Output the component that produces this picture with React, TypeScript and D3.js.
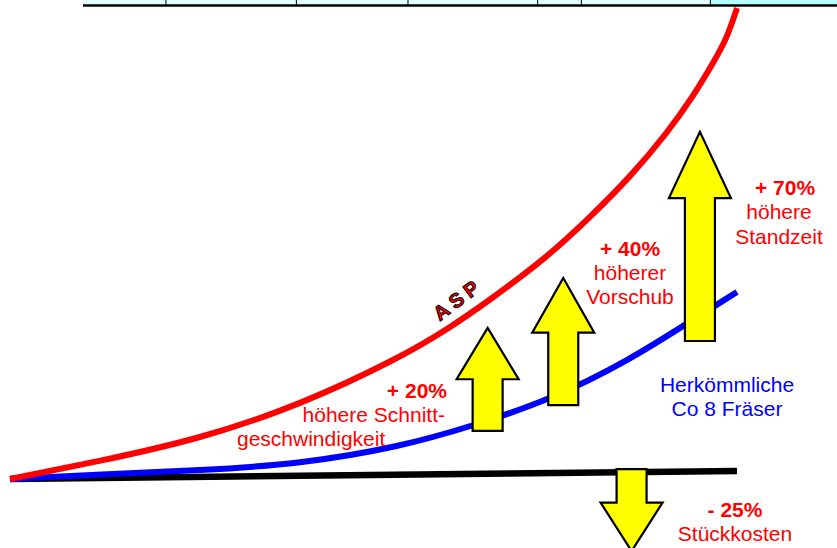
import * as d3 from "d3";

// conceptual units: x = Leistung 0..100, y = Wert 0..100
const aspX = [0, 12.4, 26.1, 39.9, 53.6, 60.5, 66.0, 73.9, 79.8, 85.3, 90.4, 93.9, 96.7, 98.6, 100];
const aspY = [0, 3.8, 8.5, 15.7, 25.7, 32.1, 38.0, 47.1, 55.6, 64.1, 73.5, 81.1, 88.3, 93.5, 100];

const co8X = [0, 12.4, 26.1, 39.9, 53.6, 63.7, 74.3, 85.3, 93.9, 100];
const co8Y = [0, 1.0, 1.8, 3.2, 6.8, 11.3, 16.8, 25.3, 33.8, 39.7];

const baseX = [0, 100];
const baseY = [0, 1.7];

// arrows: centre x, start y, end y
const arrowNames = ["Schnittgeschwindigkeit", "Vorschub", "Standzeit", "Stückkosten"];
const arrowX = [65.7, 76.1, 94.9, 85.5];
const arrowFrom = [10.2, 15.7, 29.3, 2.1];
const arrowTo = [32.1, 42.7, 73.7, -15.3];

// old table remnant at the top (column borders as share of width)
const tableCols = [0, 0.11, 0.283, 0.431, 0.603, 0.661, 0.832, 1];

const W = 837, H = 548;

const x = d3.scaleLinear().domain([0, 100]).range([10, 737]);
const y = d3.scaleLinear().domain([0, 100]).range([479, 8]);

const line = d3.line<[number, number]>()
  .x(d => x(d[0]))
  .y(d => y(d[1]))
  .curve(d3.curveBasis);

const arrowPath = (i: number) => {
  const cx = x(arrowX[i]);
  const y0 = y(arrowFrom[i]);
  const y1 = y(arrowTo[i]);
  const dir = y1 < y0 ? -1 : 1;
  const len = Math.abs(y1 - y0);
  const head = 37 + 0.14 * len;
  const yb = y1 - dir * head;
  const sw = 15, hw = 31;
  const p = d3.path();
  p.moveTo(cx - sw, y0);
  p.lineTo(cx - sw, yb);
  p.lineTo(cx - hw, yb);
  p.lineTo(cx, y1);
  p.lineTo(cx + hw, yb);
  p.lineTo(cx + sw, yb);
  p.lineTo(cx + sw, y0);
  p.closePath();
  return p.toString();
};

const font = "'Liberation Sans', Arial, sans-serif";

export default function App() {
  const tx = d3.scaleLinear().domain([0, 1]).range([83, W]);
  const zip = (a: number[], b: number[]) => a.map((v, i) => [v, b[i]] as [number, number]);

  return (
    <svg width={W} height={H} style={{ position: "absolute", left: 0, top: 0, background: "#fff" }} fontFamily={font}>
      {/* table strip */}
      <rect x={tx(0)} y={0} width={tx(tableCols[6]) - tx(0)} height={4.5} fill="#e4ffff" />
      <rect x={tx(tableCols[6])} y={0} width={tx(1) - tx(tableCols[6])} height={4.5} fill="#b4ffff" />
      {tableCols.slice(1, 7).map((c, i) => (
        <line key={i} x1={tx(c)} x2={tx(c)} y1={0} y2={5} stroke="#000" strokeWidth={1} />
      ))}
      <line x1={tx(0)} x2={tx(1)} y1={5.5} y2={5.5} stroke="#000" strokeWidth={2.6} />

      {/* curves */}
      <path d={line(zip(baseX, baseY)) || ""} fill="none" stroke="#000" strokeWidth={6.5} />
      <path d={line(zip(co8X, co8Y)) || ""} fill="none" stroke="#0000ff" strokeWidth={6} />
      <path d={line(zip(aspX, aspY)) || ""} fill="none" stroke="#ff0000" strokeWidth={6} />

      {/* arrows */}
      {arrowNames.map((n, i) => (
        <path key={n} d={arrowPath(i)} fill="#ffff00" stroke="#000" strokeWidth={2.2} strokeLinejoin="miter" />
      ))}

      {/* ASP label */}
      <text x={0} y={0} transform="translate(458,299) rotate(-37)" textAnchor="middle" dominantBaseline="central"
        fontSize={20} fontWeight="bold" fill="#ff0000" stroke="#000" strokeWidth={1} letterSpacing={5}>ASP</text>

      <g fill="#ff0000" fontSize={21}>
        <text x={447} y={398} textAnchor="end" fontWeight="bold">+ 20%</text>
        <text x={445} y={422} textAnchor="end">höhere Schnitt-</text>
        <text x={237} y={446}>geschwindigkeit</text>

        <text x={630} y={256} textAnchor="middle" fontWeight="bold">+ 40%</text>
        <text x={630} y={280} textAnchor="middle">höherer</text>
        <text x={630} y={304} textAnchor="middle">Vorschub</text>

        <text x={785} y={195} textAnchor="middle" fontWeight="bold">+ 70%</text>
        <text x={779} y={219} textAnchor="middle">höhere</text>
        <text x={779} y={244} textAnchor="middle">Standzeit</text>

        <text x={735} y={517} textAnchor="middle" fontWeight="bold">- 25%</text>
        <text x={735} y={541} textAnchor="middle">Stückkosten</text>
      </g>
      <g fill="#0000ff" fontSize={21}>
        <text x={727} y={392} textAnchor="middle">Herkömmliche</text>
        <text x={727} y={416} textAnchor="middle">Co 8 Fräser</text>
      </g>
    </svg>
  );
}
